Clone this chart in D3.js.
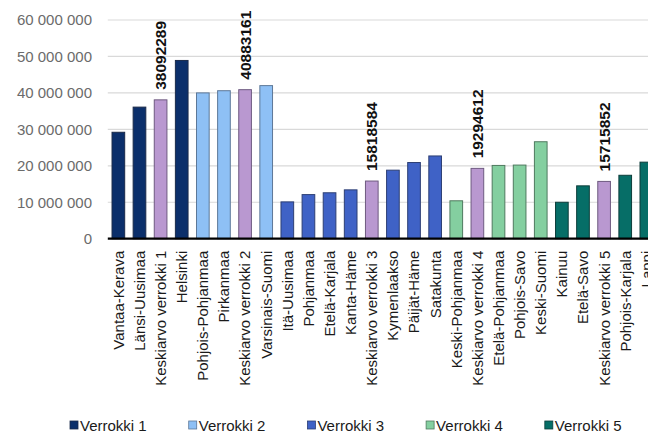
<!DOCTYPE html>
<html><head><meta charset="utf-8">
<script src="https://cdn.jsdelivr.net/npm/d3@7"></script>
<style>
html,body{margin:0;padding:0;background:#fff;}
svg{display:block;font-family:"Liberation Sans",Arial,sans-serif;}
</style></head>
<body>
<svg id="chart" width="648" height="436"></svg>
<script>
const categories = ["Vantaa-Kerava","Länsi-Uusimaa","Keskiarvo verrokki 1","Helsinki","Pohjois-Pohjanmaa","Pirkanmaa","Keskiarvo verrokki 2","Varsinais-Suomi","Itä-Uusimaa","Pohjanmaa","Etelä-Karjala","Kanta-Häme","Keskiarvo verrokki 3","Kymenlaakso","Päijät-Häme","Satakunta","Keski-Pohjanmaa","Keskiarvo verrokki 4","Etelä-Pohjanmaa","Pohjois-Savo","Keski-Suomi","Kainuu","Etelä-Savo","Keskiarvo verrokki 5","Pohjois-Karjala","Lappi"];
const values = [29200000,36100000,38092289,48900000,40000000,40600000,40883161,42000000,10100000,12100000,12600000,13400000,15818584,18800000,20900000,22700000,10400000,19294612,20100000,20200000,26600000,10000000,14500000,15715852,17400000,21000000];
const groups = ["Verrokki 1","Verrokki 1","Keskiarvo","Verrokki 1","Verrokki 2","Verrokki 2","Keskiarvo","Verrokki 2","Verrokki 3","Verrokki 3","Verrokki 3","Verrokki 3","Keskiarvo","Verrokki 3","Verrokki 3","Verrokki 3","Verrokki 4","Keskiarvo","Verrokki 4","Verrokki 4","Verrokki 4","Verrokki 5","Verrokki 5","Keskiarvo","Verrokki 5","Verrokki 5"];
const legendLabels = ["Verrokki 1","Verrokki 2","Verrokki 3","Verrokki 4","Verrokki 5"];
const yTicks = [0,10000000,20000000,30000000,40000000,50000000,60000000];

const fillColors = {"Verrokki 1":"#0b2f6b","Verrokki 2":"#8ec0f5","Verrokki 3":"#3f62c6","Verrokki 4":"#84cfa0","Verrokki 5":"#066e67","Keskiarvo":"#b998d0"};
const strokeColors = {"Verrokki 1":"#1a2a4a","Verrokki 2":"#5d7898","Verrokki 3":"#2d3f74","Verrokki 4":"#4f7a5f","Verrokki 5":"#0d3d3a","Keskiarvo":"#6e5a80"};

const svg = d3.select("#chart");
const data = categories.map((c,i)=>({c, v: values[i], g: groups[i]}));

const x = d3.scaleBand().domain(categories).range([107.8, 656.9]).paddingInner(0.4).paddingOuter(0.2);
const y = d3.scaleLinear().domain([0,60000000]).range([238.7, 20]);

const loc = d3.formatLocale({decimal:",", thousands:"\u00a0", grouping:[3], currency:["","€"]});
const fmt = loc.format(",d");

// grid
svg.append("g").selectAll("line").data(yTicks.filter(d=>d>0)).join("line")
  .attr("x1",107.8).attr("x2",648).attr("y1",d=>y(d)).attr("y2",d=>y(d))
  .attr("stroke","#d9d9d9").attr("stroke-width",1.2);

// y axis labels
const yAxis = d3.axisLeft(y).tickValues(yTicks).tickFormat(fmt).tickSize(0).tickPadding(0);
const ya = svg.append("g").attr("transform","translate(92,0)").call(yAxis);
ya.select(".domain").remove();
ya.selectAll("text").attr("fill","#6b6b6b").style("font-size","15px").style("font-family","'Liberation Sans',Arial,sans-serif");

// bars
svg.append("g").selectAll("rect").data(data).join("rect")
  .attr("x",d=>x(d.c)).attr("width",x.bandwidth())
  .attr("y",d=>y(d.v)).attr("height",d=>y(0)-y(d.v))
  .attr("fill",d=>fillColors[d.g]).attr("stroke",d=>strokeColors[d.g]).attr("stroke-width",1);

// value labels for averages
svg.append("g").selectAll("text").data(data.filter(d=>d.g==="Keskiarvo")).join("text")
  .attr("transform",d=>`translate(${x(d.c)+x.bandwidth()/2},${y(d.v)-10}) rotate(-90)`)
  .attr("dy","0.36em").attr("text-anchor","start")
  .attr("fill","#111").style("font-size","15.5px").style("font-weight","bold")
  .text(d=>d.v);

// x axis baseline
svg.append("line").attr("x1",107.8).attr("x2",648).attr("y1",y(0)).attr("y2",y(0))
  .attr("stroke","#000").attr("stroke-width",2.2);

// category labels
const xAxis = d3.axisBottom(x).tickSize(0).tickPadding(0);
const xa = svg.append("g").attr("transform",`translate(0,${y(0)})`).call(xAxis);
xa.select(".domain").remove();
xa.selectAll("text")
  .attr("transform","translate(0,12) rotate(-90)")
  .attr("x",0).attr("y",0).attr("dy","0.36em")
  .attr("text-anchor","end").attr("fill","#1a1a1a")
  .style("font-size","15px").style("font-family","'Liberation Sans',Arial,sans-serif");

// legend
const leg = svg.append("g");
let lx = 70;
legendLabels.forEach(l=>{
  const g = leg.append("g").attr("transform",`translate(${lx},425.5)`);
  g.append("rect").attr("x",0).attr("y",-4.5).attr("width",8).attr("height",8)
    .attr("fill",fillColors[l]).attr("stroke",strokeColors[l]).attr("stroke-width",0.8);
  const t = g.append("text").attr("x",10).attr("y",0).attr("dy","0.35em")
    .attr("fill","#1a1a1a").style("font-size","15px").text(l);
  lx += 10 + t.node().getComputedTextLength() + 42;
});
</script>
</body></html>
